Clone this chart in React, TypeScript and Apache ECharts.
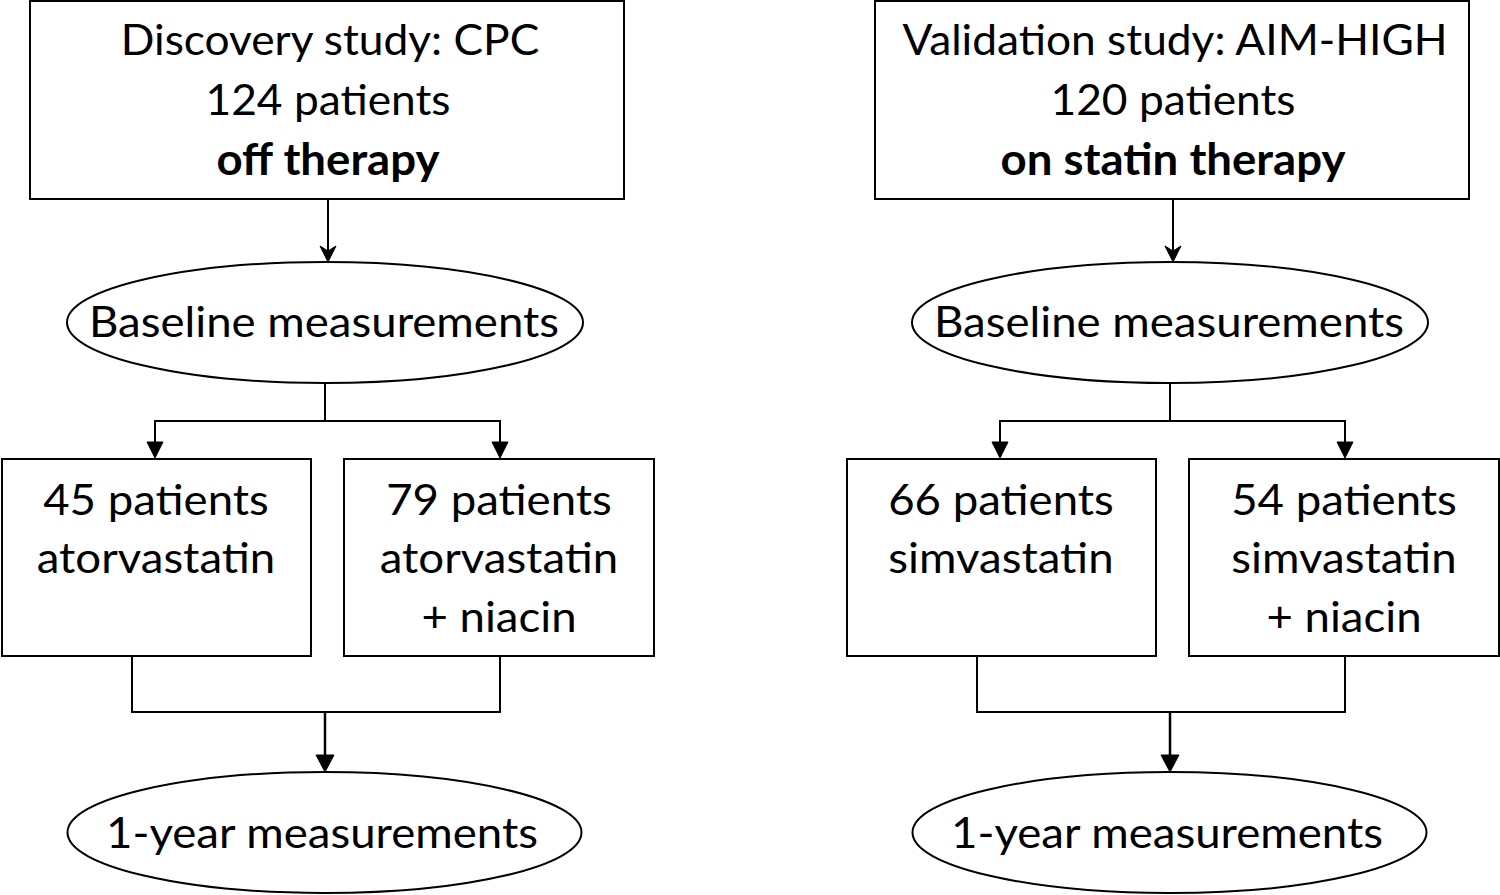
import React, { useEffect, useRef } from "react";
import * as echarts from "echarts";

// ---- content (data) ----
const studyTitles = ["Discovery study: CPC", "Validation study: AIM-HIGH"];
const totalPatients = [124, 120];
const therapyLabels = ["off therapy", "on statin therapy"];
const armPatients = [
  [45, 79],
  [66, 54],
];
const statinNames = ["atorvastatin", "simvastatin"];
const addOnLabel = "+ niacin";
const stageLabels = ["Baseline measurements", "1-year measurements"];

// ---- layout ----
const PANEL_DX = 845;
const FONT = "Lato";
const FS = 43;
const SX = 1.06;
const SX_TITLE = 1.03;
const STROKE = "#000";

function txt(x: number, baseline: number, text: string, bold = false, sx = SX) {
  return {
    type: "text",
    x,
    y: baseline - 0.387 * FS,
    scaleX: sx,
    silent: true,
    style: {
      text,
      fill: "#000",
      fontSize: FS,
      fontFamily: FONT,
      fontWeight: bold ? "bold" : "normal",
      align: "center",
      verticalAlign: "middle",
    },
  };
}

function line(points: number[][], w = 2) {
  return {
    type: "polyline",
    silent: true,
    shape: { points },
    style: { stroke: STROKE, lineWidth: w, fill: null },
  };
}

function tri(x: number, tipY: number, half: number, len: number, notch = 0) {
  const pts = notch
    ? [
        [x, tipY],
        [x - half, tipY - len],
        [x, tipY - len + notch],
        [x + half, tipY - len],
      ]
    : [
        [x, tipY],
        [x - half, tipY - len],
        [x + half, tipY - len],
      ];
  return {
    type: "polygon",
    silent: true,
    shape: { points: pts },
    style: { fill: STROKE, stroke: STROKE, lineWidth: 1 },
  };
}

function rect(x: number, y: number, w: number, h: number) {
  return {
    type: "rect",
    silent: true,
    shape: { x, y, width: w, height: h },
    style: { fill: "#fff", stroke: STROKE, lineWidth: 2 },
  };
}

function ell(cx: number, cy: number, rx: number, ry: number) {
  return {
    type: "ellipse",
    silent: true,
    shape: { cx, cy, rx, ry },
    style: { fill: "#fff", stroke: STROKE, lineWidth: 2 },
  };
}

function buildPanel(i: number) {
  const d = i * PANEL_DX;
  const els: any[] = [];
  // connectors first (behind shapes)
  els.push(line([[328 + d, 199], [328 + d, 255]]));
  els.push(tri(328 + d, 262, 8, 16, 5));
  els.push(line([[325 + d, 383], [325 + d, 421]]));
  els.push(line([[155 + d, 451], [155 + d, 421], [500 + d, 421], [500 + d, 451]]));
  els.push(tri(155 + d, 458, 8, 16));
  els.push(tri(500 + d, 458, 8, 16));
  els.push(line([[132 + d, 654], [132 + d, 712], [500 + d, 712], [500 + d, 656]]));
  els.push(line([[325 + d, 712], [325 + d, 762]], 2.5));
  els.push(tri(325 + d, 772, 9, 17));

  // top box
  els.push(rect(30 + d, 1, 594, 198));
  els.push(txt(330 + d, 55, studyTitles[i], false, SX_TITLE));
  els.push(txt(328 + d, 115, `${totalPatients[i]} patients`, false, SX_TITLE));
  els.push(txt(328 + d, 175, therapyLabels[i], true));

  // baseline ellipse
  els.push(ell(325 + d, 322.5, 258, 60.5));
  els.push(txt(324 + d, 337, stageLabels[0]));

  // arm boxes
  els.push(rect(2 + d, 459, 309, 197));
  els.push(rect(344 + d, 459, 310, 197));
  els.push(txt(156 + d, 515, `${armPatients[i][0]} patients`));
  els.push(txt(156 + d, 573, statinNames[i]));
  els.push(txt(499 + d, 515, `${armPatients[i][1]} patients`));
  els.push(txt(499 + d, 573, statinNames[i]));
  els.push(txt(499 + d, 632, addOnLabel));

  // 1-year ellipse
  els.push(ell(324.5 + d, 832.5, 257, 60.5));
  els.push(txt(322 + d, 848, stageLabels[1]));
  return els;
}

export default function App() {
  const ref = useRef<HTMLDivElement>(null);
  useEffect(() => {
    if (!ref.current) return;
    const chart = echarts.init(ref.current, undefined, { renderer: "svg" });
    const elements = [...buildPanel(0), ...buildPanel(1)];
    chart.setOption({
      animation: false,
      backgroundColor: "#fff",
      graphic: { elements },
    });
    return () => chart.dispose();
  }, []);
  return (
    <div
      ref={ref}
      style={{ position: "fixed", left: 0, top: 0, width: 1500, height: 895, background: "#fff" }}
    />
  );
}
